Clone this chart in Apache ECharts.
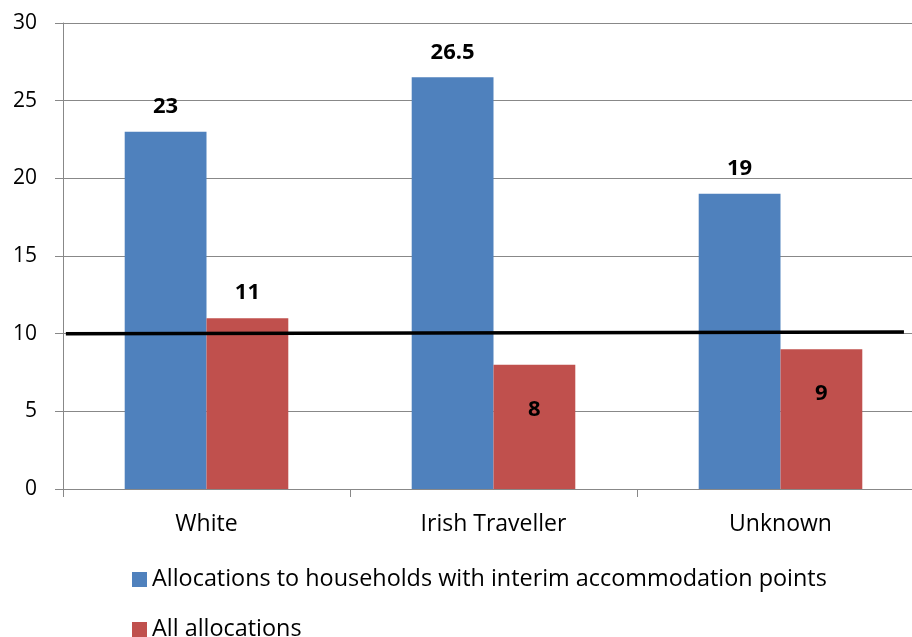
<!DOCTYPE html>
<html>
<head>
<meta charset="utf-8">
<script src="https://cdn.jsdelivr.net/npm/echarts@6/dist/echarts.min.js"></script>
<style>
  html, body { margin: 0; padding: 0; background: #fff; }
  #chart { width: 912px; height: 637px; }
</style>
</head>
<body>
<div id="chart"></div>
<script>
// categories and values
var categories = ["White", "Irish Traveller", "Unknown"];
var interimValues = [23, 26.5, 19];
var allValues = [11, 8, 9];
var yTicks = { min: 0, max: 30, interval: 5 };
// black reference line (x in category units, 0 = left edge, 3 = right edge)
var refLineX = [0.01, 2.93];
var refLineY = [10, 10.1];

var seriesNames = [
  "Allocations to households with interim accommodation points",
  "All allocations"
];

var font = "Open Sans";
var axisGray = "#888888";

var labelTop = {
  show: true,
  position: "top",
  distance: 14,
  color: "#000",
  fontFamily: font,
  fontWeight: "bold",
  fontSize: 22
};
var labelInside = {
  show: true,
  position: "insideTop",
  distance: 34,
  color: "#000",
  fontFamily: font,
  fontWeight: "bold",
  fontSize: 22
};

function legendItem(name, top) {
  return {
    orient: "vertical",
    left: 132,
    top: top,
    padding: 0,
    itemWidth: 15,
    itemHeight: 15,
    icon: "rect",
    textStyle: { fontFamily: font, fontSize: 23.4, color: "#000" },
    data: [name]
  };
}

var chart = echarts.init(document.getElementById("chart"));
chart.setOption({
  animation: false,
  backgroundColor: "#fff",
  grid: { left: 63, width: 861, top: 23, height: 466, outerBoundsMode: "none" },
  legend: [
    legendItem(seriesNames[0], 568),
    legendItem(seriesNames[1], 618)
  ],
  xAxis: [
    {
      type: "category",
      data: categories,
      axisLine: { lineStyle: { color: axisGray, width: 1 } },
      axisTick: { show: true, length: 8, lineStyle: { color: axisGray } },
      axisLabel: { color: "#000", fontFamily: font, fontSize: 23, margin: 24 }
    },
    {
      type: "value",
      min: 0,
      max: 3,
      show: false
    }
  ],
  yAxis: {
    type: "value",
    min: yTicks.min,
    max: yTicks.max,
    interval: yTicks.interval,
    axisLine: { show: true, lineStyle: { color: axisGray, width: 1 } },
    axisTick: { show: true, length: 8, lineStyle: { color: axisGray } },
    splitLine: { show: true, lineStyle: { color: axisGray, width: 1 } },
    axisLabel: { color: "#000", fontFamily: font, fontSize: 21, margin: 26 }
  },
  series: [
    {
      name: seriesNames[0],
      type: "bar",
      data: interimValues,
      barGap: "0%",
      barCategoryGap: "43%",
      itemStyle: { color: "#4f81bd" },
      label: labelTop
    },
    {
      name: seriesNames[1],
      type: "bar",
      data: allValues.map(function (v, i) {
        return { value: v, label: i === 0 ? labelTop : labelInside };
      }),
      itemStyle: { color: "#c0504d" },
      label: labelTop
    },
    {
      name: "ref",
      type: "line",
      xAxisIndex: 1,
      data: refLineX.map(function (x, i) { return [x, refLineY[i]]; }),
      symbol: "none",
      lineStyle: { color: "#000", width: 3.5 },
      z: 5
    }
  ]
});
</script>
</body>
</html>
